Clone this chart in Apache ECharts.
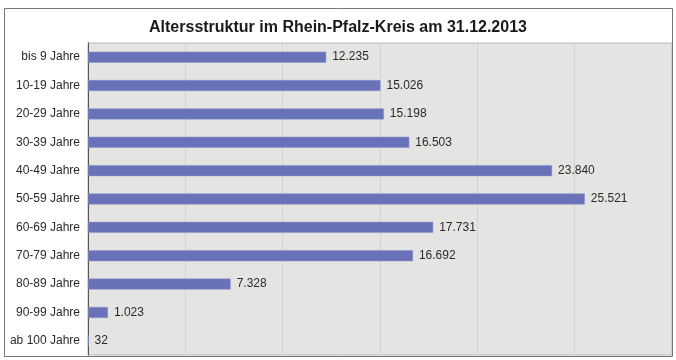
<!DOCTYPE html>
<html><head><meta charset="utf-8">
<script src="https://cdn.jsdelivr.net/npm/echarts@6/dist/echarts.min.js"></script>
<style>html,body{margin:0;padding:0;background:#fff;}#c{width:676px;height:360px;}</style>
</head><body><div id="c"></div>
<script>
const titleText = 'Altersstruktur im Rhein-Pfalz-Kreis am 31.12.2013';
const categories = ['bis 9 Jahre','10-19 Jahre','20-29 Jahre','30-39 Jahre','40-49 Jahre','50-59 Jahre','60-69 Jahre','70-79 Jahre','80-89 Jahre','90-99 Jahre','ab 100 Jahre'];
const values = [12235,15026,15198,16503,23840,25521,17731,16692,7328,1023,32];

function fmt(v){ return String(v).replace(/\B(?=(\d{3})+(?!\d))/g,'.'); }

const chart = echarts.init(document.getElementById('c'), null, {renderer:'canvas'});
chart.setOption({
  backgroundColor:'#ffffff',
  animation:false,
  title:{text:titleText,left:'center',top:15,textStyle:{fontFamily:'Liberation Sans',fontSize:16,fontWeight:'bold',color:'#1a1a1a'}},
  graphic:[{type:'rect',shape:{x:4.5,y:8.5,width:668,height:348},style:{fill:'none',stroke:'#777',lineWidth:1},z:100}],
  grid:{left:88,right:4,top:43,bottom:5,show:true,backgroundColor:'#e4e4e2',borderColor:'#b8b8b8',borderWidth:1},
  xAxis:{type:'value',min:0,max:30000,interval:5000,axisLabel:{show:false},axisLine:{show:false},axisTick:{show:false},
    splitLine:{show:true,lineStyle:{color:'#d2d2d0',width:1}}},
  yAxis:{type:'category',data:categories,inverse:true,axisTick:{show:false},
    axisLine:{show:true,lineStyle:{color:'#555',width:1}},
    axisLabel:{fontFamily:'Liberation Sans',fontSize:12,color:'#2a2a2a',margin:8}},
  series:[{type:'bar',data:values,barWidth:11,
    itemStyle:{color:'#6971b8',borderColor:'#8c93cc',borderWidth:0.5},
    label:{show:true,position:'right',distance:6,fontFamily:'Liberation Sans',fontSize:12,color:'#2a2a2a',formatter:p=>fmt(p.value)}}]
});
</script></body></html>
